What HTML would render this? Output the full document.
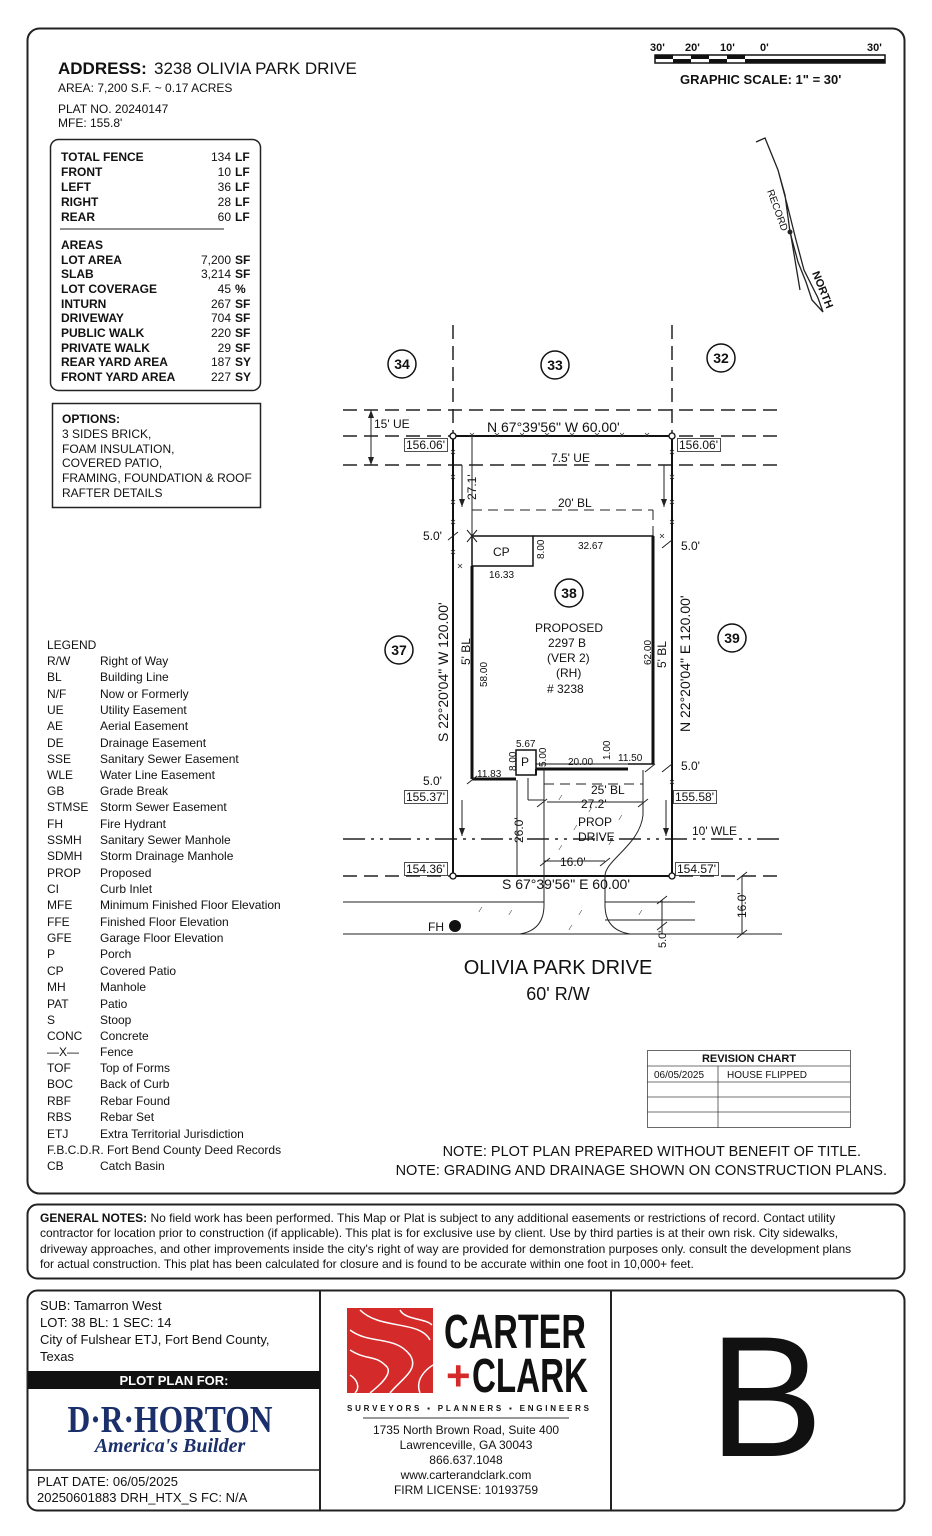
<!DOCTYPE html>
<html><head><meta charset="utf-8"><style>
html,body{margin:0;padding:0;background:#fff}
svg{display:block}
text{font-family:"Liberation Sans",sans-serif;fill:#111}
.b{font-weight:bold}
</style></head><body>
<svg width="932" height="1536" viewBox="0 0 932 1536" xmlns="http://www.w3.org/2000/svg">
<rect x="0" y="0" width="932" height="1536" fill="#fff"/>
<rect x="27.5" y="28.5" width="877" height="1165" rx="12" fill="none" stroke="#222" stroke-width="2"/>
<rect x="27.5" y="1204.5" width="877" height="74" rx="10" fill="none" stroke="#222" stroke-width="2"/>
<rect x="27.5" y="1290.5" width="877" height="220" rx="10" fill="none" stroke="#222" stroke-width="2"/>
<line x1="320" y1="1291" x2="320" y2="1510" stroke="#222" stroke-width="2"/>
<line x1="611" y1="1291" x2="611" y2="1510" stroke="#222" stroke-width="2"/>

<text x="58" y="74" font-size="17" class="b">ADDRESS:</text>
<text x="154" y="74" font-size="17">3238 OLIVIA PARK DRIVE</text>
<text x="58" y="92" font-size="12">AREA: 7,200 S.F. ~ 0.17 ACRES</text>
<text x="58" y="113" font-size="12">PLAT NO. 20240147</text>
<text x="58" y="127" font-size="12">MFE:  155.8'</text>

<rect x="50.5" y="139.5" width="210" height="251" rx="8" fill="none" stroke="#222" stroke-width="1.5"/>
<g font-size="12" class="b">
<text x="61" y="161" class="b">TOTAL FENCE</text><text x="61" y="176" class="b">FRONT</text><text x="61" y="191" class="b">LEFT</text><text x="61" y="206" class="b">RIGHT</text><text x="61" y="221" class="b">REAR</text>
<text x="61" y="249" class="b">AREAS</text><text x="61" y="264" class="b">LOT AREA</text><text x="61" y="278" class="b">SLAB</text><text x="61" y="293" class="b">LOT COVERAGE</text><text x="61" y="308" class="b">INTURN</text><text x="61" y="322" class="b">DRIVEWAY</text><text x="61" y="337" class="b">PUBLIC WALK</text><text x="61" y="352" class="b">PRIVATE WALK</text><text x="61" y="366" class="b">REAR YARD AREA</text><text x="61" y="381" class="b">FRONT YARD AREA</text>
</g>
<g font-size="12" text-anchor="end">
<text x="231" y="161">134</text><text x="231" y="176">10</text><text x="231" y="191">36</text><text x="231" y="206">28</text><text x="231" y="221">60</text>
<text x="231" y="264">7,200</text><text x="231" y="278">3,214</text><text x="231" y="293">45</text><text x="231" y="308">267</text><text x="231" y="322">704</text><text x="231" y="337">220</text><text x="231" y="352">29</text><text x="231" y="366">187</text><text x="231" y="381">227</text>
</g>
<g font-size="12" class="b">
<text x="235" y="161" class="b">LF</text><text x="235" y="176" class="b">LF</text><text x="235" y="191" class="b">LF</text><text x="235" y="206" class="b">LF</text><text x="235" y="221" class="b">LF</text>
<text x="235" y="264" class="b">SF</text><text x="235" y="278" class="b">SF</text><text x="235" y="293" class="b">%</text><text x="235" y="308" class="b">SF</text><text x="235" y="322" class="b">SF</text><text x="235" y="337" class="b">SF</text><text x="235" y="352" class="b">SF</text><text x="235" y="366" class="b">SY</text><text x="235" y="381" class="b">SY</text>
</g>
<line x1="60" y1="229" x2="224" y2="229" stroke="#222"/>

<rect x="52.5" y="403.5" width="208" height="104" fill="none" stroke="#222" stroke-width="1.5"/>
<text x="62" y="423" font-size="12" class="b">OPTIONS:</text>
<g font-size="12"><text x="62" y="438">3 SIDES BRICK,</text><text x="62" y="453">FOAM INSULATION,</text><text x="62" y="467">COVERED PATIO,</text><text x="62" y="482">FRAMING, FOUNDATION &amp; ROOF</text><text x="62" y="497">RAFTER DETAILS</text></g>

<g font-size="11" class="b"><text x="650" y="51" class="b">30'</text><text x="685" y="51" class="b">20'</text><text x="720" y="51" class="b">10'</text><text x="760" y="51" class="b">0'</text><text x="867" y="51" class="b">30'</text></g>
<rect x="655" y="55" width="230" height="8" fill="#fff" stroke="#111" stroke-width="1.5"/>
<rect x="655" y="55" width="18" height="4" fill="#111"/><rect x="673" y="59" width="18" height="4" fill="#111"/><rect x="691" y="55" width="18" height="4" fill="#111"/><rect x="709" y="59" width="18" height="4" fill="#111"/><rect x="727" y="55" width="18" height="4" fill="#111"/><rect x="745" y="59" width="18" height="4" fill="#111"/>
<rect x="763" y="59" width="122" height="4" fill="#111"/>
<text x="680" y="84" font-size="13" class="b">GRAPHIC SCALE: 1" = 30'</text>

<g stroke="#222" stroke-width="1.3" fill="none">
<polyline points="756,142 765,138 778,170 785,195 790,232 798,262 806,282 812,300 823,312 818,298 804,270 796,240 787,204 778,170"/>
<line x1="790" y1="230" x2="800" y2="290"/>
</g>
<circle cx="790" cy="232" r="2.5" fill="#222"/>
<text transform="translate(767,191) rotate(70)" font-size="10">RECORD</text>
<text transform="translate(812,273) rotate(68)" font-size="11" class="b">NORTH</text>

<g fill="none" stroke="#111" stroke-width="1.5">
<circle cx="402" cy="364" r="14"/><circle cx="555" cy="365" r="14"/><circle cx="721" cy="358" r="14"/><circle cx="399" cy="650" r="14"/><circle cx="569" cy="593" r="14"/><circle cx="732" cy="638" r="14"/>
</g>
<g font-size="14" class="b" text-anchor="middle">
<text x="402" y="369" class="b">34</text><text x="555" y="370" class="b">33</text><text x="721" y="363" class="b">32</text><text x="399" y="655" class="b">37</text><text x="569" y="598" class="b">38</text><text x="732" y="643" class="b">39</text>
</g>

<g stroke="#222" stroke-width="1.5" fill="none" stroke-dasharray="14,7">
<line x1="343" y1="410" x2="782" y2="410"/>
<line x1="343" y1="436" x2="782" y2="436"/>
<line x1="343" y1="465" x2="782" y2="465"/>
<line x1="453" y1="325" x2="453" y2="436"/>
<line x1="672" y1="325" x2="672" y2="436"/>
<line x1="343" y1="876" x2="782" y2="876"/>
<line x1="343" y1="839" x2="782" y2="839" stroke-dasharray="22,6,3,6,3,6"/>
</g>
<g stroke="#222" stroke-width="1" fill="none" stroke-dasharray="10,6">
<line x1="472" y1="510" x2="653" y2="510"/><line x1="653" y1="510" x2="653" y2="536"/>
<line x1="544" y1="784" x2="643" y2="784"/><line x1="643" y1="770" x2="643" y2="784"/>
</g>
<g stroke="#111" stroke-width="2" fill="none">
<line x1="453" y1="436" x2="672" y2="436"/>
<line x1="453" y1="436" x2="453" y2="876"/>
<line x1="672" y1="436" x2="672" y2="876"/>
<line x1="453" y1="876" x2="672" y2="876"/>
</g>
<g fill="#fff" stroke="#111" stroke-width="1.3"><circle cx="453" cy="436" r="3"/><circle cx="672" cy="436" r="3"/><circle cx="453" cy="876" r="3"/><circle cx="672" cy="876" r="3"/></g>
<g stroke="#333" stroke-width="0.8">
<path d="M470,433l4,4m0,-4l-4,4 M495,433l4,4m0,-4l-4,4 M520,433l4,4m0,-4l-4,4 M545,433l4,4m0,-4l-4,4 M570,433l4,4m0,-4l-4,4 M595,433l4,4m0,-4l-4,4 M620,433l4,4m0,-4l-4,4 M645,433l4,4m0,-4l-4,4"/>
<path d="M451,450l4,4m0,-4l-4,4 M451,475l4,4m0,-4l-4,4 M451,500l4,4m0,-4l-4,4 M451,520l4,4m0,-4l-4,4 M451,550l4,4m0,-4l-4,4 M670,450l4,4m0,-4l-4,4 M670,475l4,4m0,-4l-4,4 M670,500l4,4m0,-4l-4,4 M670,520l4,4m0,-4l-4,4 M670,780l4,4m0,-4l-4,4 M458,564l4,4m0,-4l-4,4 M660,534l4,4m0,-4l-4,4"/>
</g>
<g stroke="#111" fill="none">
<polyline points="533,536 653,536 653,764 628,764" stroke-width="1.5"/>
<line x1="653" y1="536" x2="653" y2="764" stroke-width="3"/>
<line x1="472" y1="566" x2="472" y2="779" stroke-width="3"/>
<line x1="472" y1="779" x2="516" y2="779" stroke-width="3"/>
<line x1="536" y1="769" x2="628" y2="769" stroke-width="3"/>
<rect x="472" y="536" width="61" height="30" stroke-width="1.5"/>
<rect x="516" y="750" width="20" height="25" stroke-width="1.5"/>
<line x1="536" y1="775" x2="536" y2="769" stroke-width="2"/>
<line x1="536" y1="764" x2="628" y2="764" stroke-width="1"/>
</g>
<g stroke="#222" stroke-width="1" fill="none">
<line x1="544" y1="769" x2="544" y2="876"/>
<line x1="643" y1="770" x2="643" y2="815"/>
<path d="M643,815 C640,845 605,860 605,876"/>
<path d="M544,876 L544,905 Q544,930 520,934"/>
<path d="M605,876 L605,905 Q605,930 630,934"/>
<line x1="343" y1="902" x2="544" y2="902"/><line x1="605" y1="902" x2="695" y2="902"/>
<line x1="343" y1="934" x2="782" y2="934"/>
<line x1="605" y1="920" x2="695" y2="920"/>
<line x1="528" y1="778" x2="528" y2="800"/><line x1="528" y1="800" x2="544" y2="800"/>
</g>
<g fill="#555" font-size="7"><text x="560" y="800">⁄</text><text x="590" y="812">⁄</text><text x="575" y="830">⁄</text><text x="620" y="820">⁄</text><text x="560" y="850">⁄</text><text x="610" y="845">⁄</text><text x="480" y="912">⁄</text><text x="510" y="915">⁄</text><text x="580" y="915">⁄</text><text x="570" y="930">⁄</text><text x="640" y="915">⁄</text></g>
<circle cx="455" cy="926" r="6" fill="#111"/>
<text x="428" y="931" font-size="12">FH</text>

<g stroke="#222" stroke-width="1" fill="none">
<line x1="371" y1="410" x2="371" y2="465"/>
<line x1="472" y1="436" x2="472" y2="536"/>
<line x1="462" y1="465" x2="462" y2="507"/>
<line x1="664" y1="465" x2="664" y2="507"/>
<line x1="462" y1="800" x2="462" y2="836"/>
<line x1="666" y1="800" x2="666" y2="836"/>
<line x1="517" y1="780" x2="517" y2="876"/>
<line x1="547" y1="802" x2="643" y2="802"/>
<line x1="544" y1="861" x2="605" y2="861"/>
<line x1="742" y1="876" x2="742" y2="934"/>
<line x1="662" y1="900" x2="662" y2="934"/>
<path d="M467,530l10,12m0,-12l-10,12 M448,540l10,-8 M467,784l10,-8 M662,548l10,-8 M645,772l10,-8 M662,772l10,-8 M537,807l10,-8 M638,807l10,-8 M540,866l10,-8 M600,866l10,-8 M737,880l10,-8 M737,938l10,-8 M657,930l10,-8 M657,904l10,-8"/>
</g>
<g fill="#222"><path d="M371,410l-3,8h6z M371,465l-3,-8h6z M462,507l-3,-8h6z M664,507l-3,-8h6z M462,836l-3,-8h6z M666,836l-3,-8h6z"/></g>

<g font-size="12">
<text x="374" y="428">15' UE</text>
<text x="487" y="432" font-size="14">N 67°39'56" W  60.00'</text>
<rect x="404.5" y="438.5" width="43" height="13" fill="none" stroke="#222" stroke-width="0.8"/><text x="406" y="449">156.06'</text>
<rect x="677.5" y="438.5" width="43" height="13" fill="none" stroke="#222" stroke-width="0.8"/><text x="679" y="449">156.06'</text>
<text x="551" y="462">7.5' UE</text>
<text x="558" y="507">20' BL</text>
<text x="423" y="540">5.0'</text>
<text x="681" y="550">5.0'</text>
<text x="493" y="556" font-size="12">CP</text>
<text x="578" y="549" font-size="10">32.67</text>
<text x="489" y="578" font-size="10">16.33</text>
<text x="535" y="632" font-size="12">PROPOSED</text>
<text x="548" y="647">2297 B</text>
<text x="547" y="662">(VER 2)</text>
<text x="556" y="677">(RH)</text>
<text x="547" y="693"># 3238</text>
<text x="516" y="747" font-size="10">5.67</text>
<text x="521" y="766" font-size="12">P</text>
<text x="568" y="765" font-size="10">20.00</text>
<text x="618" y="761" font-size="10">11.50</text>
<text x="477" y="777" font-size="10">11.83</text>
<text x="423" y="785">5.0'</text>
<text x="681" y="770">5.0'</text>
<text x="591" y="794">25' BL</text>
<rect x="404.5" y="790.5" width="43" height="13" fill="none" stroke="#222" stroke-width="0.8"/><text x="406" y="801">155.37'</text>
<rect x="673.5" y="790.5" width="43" height="13" fill="none" stroke="#222" stroke-width="0.8"/><text x="675" y="801">155.58'</text>
<text x="581" y="808">27.2'</text>
<text x="578" y="826">PROP</text>
<text x="578" y="841">DRIVE</text>
<text x="692" y="835">10' WLE</text>
<text x="560" y="866">16.0'</text>
<rect x="404.5" y="862.5" width="43" height="13" fill="none" stroke="#222" stroke-width="0.8"/><text x="406" y="873">154.36'</text>
<rect x="675.5" y="862.5" width="43" height="13" fill="none" stroke="#222" stroke-width="0.8"/><text x="677" y="873">154.57'</text>
<text x="502" y="889" font-size="14">S 67°39'56" E  60.00'</text>
</g>
<g font-size="12">
<text transform="translate(448,742) rotate(-90)" font-size="14">S 22°20'04" W  120.00'</text>
<text transform="translate(690,732) rotate(-90)" font-size="14">N 22°20'04" E  120.00'</text>
<text transform="translate(476,500) rotate(-90)">27.1'</text>
<text transform="translate(470,665) rotate(-90)">5' BL</text>
<text transform="translate(487,687) rotate(-90)" font-size="10">58.00</text>
<text transform="translate(651,665) rotate(-90)" font-size="10">62.00</text>
<text transform="translate(666,668) rotate(-90)">5' BL</text>
<text transform="translate(544,559) rotate(-90)" font-size="10">8.00</text>
<text transform="translate(516,771) rotate(-90)" font-size="10">8.00</text>
<text transform="translate(546,767) rotate(-90)" font-size="10">5.00</text>
<text transform="translate(610,760) rotate(-90)" font-size="10">1.00</text>
<text transform="translate(523,843) rotate(-90)">26.0'</text>
<text transform="translate(746,918) rotate(-90)">16.0'</text>
<text transform="translate(666,948) rotate(-90)" font-size="11">5.0'</text>
</g>
<text x="558" y="974" font-size="20" text-anchor="middle">OLIVIA PARK DRIVE</text>
<text x="558" y="1000" font-size="18" text-anchor="middle">60' R/W</text>

<g font-size="12">
<text x="47" y="649">LEGEND</text>
<text x="47" y="665">R/W</text><text x="100" y="665">Right of Way</text>
<text x="47" y="681">BL</text><text x="100" y="681">Building Line</text>
<text x="47" y="698">N/F</text><text x="100" y="698">Now or Formerly</text>
<text x="47" y="714">UE</text><text x="100" y="714">Utility Easement</text>
<text x="47" y="730">AE</text><text x="100" y="730">Aerial Easement</text>
<text x="47" y="747">DE</text><text x="100" y="747">Drainage Easement</text>
<text x="47" y="763">SSE</text><text x="100" y="763">Sanitary Sewer Easement</text>
<text x="47" y="779">WLE</text><text x="100" y="779">Water Line Easement</text>
<text x="47" y="795">GB</text><text x="100" y="795">Grade Break</text>
<text x="47" y="811">STMSE</text><text x="100" y="811">Storm Sewer Easement</text>
<text x="47" y="828">FH</text><text x="100" y="828">Fire Hydrant</text>
<text x="47" y="844">SSMH</text><text x="100" y="844">Sanitary Sewer Manhole</text>
<text x="47" y="860">SDMH</text><text x="100" y="860">Storm Drainage Manhole</text>
<text x="47" y="877">PROP</text><text x="100" y="877">Proposed</text>
<text x="47" y="893">CI</text><text x="100" y="893">Curb Inlet</text>
<text x="47" y="909">MFE</text><text x="100" y="909">Minimum Finished Floor Elevation</text>
<text x="47" y="926">FFE</text><text x="100" y="926">Finished Floor Elevation</text>
<text x="47" y="942">GFE</text><text x="100" y="942">Garage Floor Elevation</text>
<text x="47" y="958">P</text><text x="100" y="958">Porch</text>
<text x="47" y="975">CP</text><text x="100" y="975">Covered Patio</text>
<text x="47" y="991">MH</text><text x="100" y="991">Manhole</text>
<text x="47" y="1008">PAT</text><text x="100" y="1008">Patio</text>
<text x="47" y="1024">S</text><text x="100" y="1024">Stoop</text>
<text x="47" y="1040">CONC</text><text x="100" y="1040">Concrete</text>
<text x="47" y="1056">—X—</text><text x="100" y="1056">Fence</text>
<text x="47" y="1072">TOF</text><text x="100" y="1072">Top of Forms</text>
<text x="47" y="1088">BOC</text><text x="100" y="1088">Back of Curb</text>
<text x="47" y="1105">RBF</text><text x="100" y="1105">Rebar Found</text>
<text x="47" y="1121">RBS</text><text x="100" y="1121">Rebar Set</text>
<text x="47" y="1138">ETJ</text><text x="100" y="1138">Extra Territorial Jurisdiction</text>
<text x="47" y="1154">F.B.C.D.R. Fort Bend County Deed Records</text>
<text x="47" y="1170">CB</text><text x="100" y="1170">Catch Basin</text>
</g>

<g stroke="#444" stroke-width="0.8" fill="none">
<rect x="647.5" y="1050.5" width="203" height="77"/>
<line x1="647" y1="1066" x2="850" y2="1066"/><line x1="647" y1="1082" x2="850" y2="1082"/><line x1="647" y1="1097" x2="850" y2="1097"/><line x1="647" y1="1112" x2="850" y2="1112"/>
<line x1="718" y1="1066" x2="718" y2="1128"/>
</g>
<text x="749" y="1062" font-size="11" text-anchor="middle" class="b">REVISION CHART</text>
<text x="654" y="1078" font-size="10">06/05/2025</text>
<text x="727" y="1078" font-size="10">HOUSE FLIPPED</text>
<text x="861" y="1156" font-size="14.5" text-anchor="end">NOTE: PLOT PLAN PREPARED WITHOUT BENEFIT OF TITLE.</text>
<text x="887" y="1175" font-size="14.5" text-anchor="end">NOTE: GRADING AND DRAINAGE SHOWN ON CONSTRUCTION PLANS.</text>

<g font-size="12">
<text x="40" y="1222"><tspan font-weight="bold">GENERAL NOTES:</tspan> No field work has been performed. This Map or Plat is subject to any additional easements or restrictions of record. Contact utility</text>
<text x="40" y="1237">contractor for location prior to construction (if applicable). This plat is for exclusive use by client. Use by third parties is at their own risk. City sidewalks,</text>
<text x="40" y="1253">driveway approaches, and other improvements inside the city's right of way are provided for demonstration purposes only. consult the development plans</text>
<text x="40" y="1268">for actual construction. This plat has been calculated for closure and is found to be accurate within one foot in 10,000+ feet.</text>
</g>

<g font-size="13">
<text x="40" y="1310">SUB: Tamarron West</text>
<text x="40" y="1327">LOT: 38  BL: 1      SEC: 14</text>
<text x="40" y="1344">City of Fulshear ETJ, Fort Bend County,</text>
<text x="40" y="1361">Texas</text>
</g>
<rect x="28" y="1371" width="292" height="18" fill="#111"/>
<text x="174" y="1385" font-size="13" text-anchor="middle" class="b" style="fill:#fff">PLOT PLAN FOR:</text>
<text x="170" y="1432" font-size="38" text-anchor="middle" font-weight="bold" style="fill:#1b2f6b;font-family:'Liberation Serif',serif" textLength="205" lengthAdjust="spacingAndGlyphs">D·R·HORTON</text>
<text x="170" y="1452" font-size="20" text-anchor="middle" font-weight="bold" font-style="italic" style="fill:#1b2f6b;font-family:'Liberation Serif',serif">America's Builder</text>
<line x1="28" y1="1470" x2="320" y2="1470" stroke="#222" stroke-width="1.5"/>
<text x="37" y="1486" font-size="13">PLAT DATE:  06/05/2025</text>
<text x="37" y="1502" font-size="13">20250601883  DRH_HTX_S  FC: N/A</text>

<rect x="347" y="1308" width="86" height="85" fill="#d42a2a"/>
<g stroke="#fff" stroke-width="1.5" fill="none">
<path d="M360,1310 C380,1330 420,1320 430,1340"/><path d="M350,1330 C370,1345 395,1335 410,1355 C420,1370 400,1380 390,1393"/><path d="M350,1350 C365,1360 375,1355 385,1365 C395,1372 380,1385 370,1393"/><path d="M400,1310 C405,1320 425,1318 432,1325"/><path d="M350,1375 C358,1380 360,1388 355,1393"/><path d="M420,1393 C415,1380 425,1370 433,1365"/>
</g>
<text x="444" y="1348" font-size="48" font-weight="bold" textLength="142" lengthAdjust="spacingAndGlyphs" style="font-family:'Liberation Sans Narrow','Liberation Sans',sans-serif">CARTER</text>
<text x="446" y="1390" font-size="42" font-weight="bold" style="fill:#d42a2a">+</text>
<text x="472" y="1392" font-size="48" font-weight="bold" textLength="116" lengthAdjust="spacingAndGlyphs" style="font-family:'Liberation Sans Narrow','Liberation Sans',sans-serif">CLARK</text>
<text x="347" y="1411" font-size="8" font-weight="bold" textLength="242" lengthAdjust="spacing">SURVEYORS ▪ PLANNERS ▪ ENGINEERS</text>
<line x1="363" y1="1418" x2="569" y2="1418" stroke="#333"/>
<g font-size="12" text-anchor="middle">
<text x="466" y="1434">1735 North Brown Road, Suite 400</text>
<text x="466" y="1449">Lawrenceville, GA 30043</text>
<text x="466" y="1464">866.637.1048</text>
<text x="466" y="1479">www.carterandclark.com</text>
<text x="466" y="1494">FIRM LICENSE: 10193759</text>
</g>
<text x="766" y="1456" font-size="172" text-anchor="middle">B</text>
</svg>
</body></html>
